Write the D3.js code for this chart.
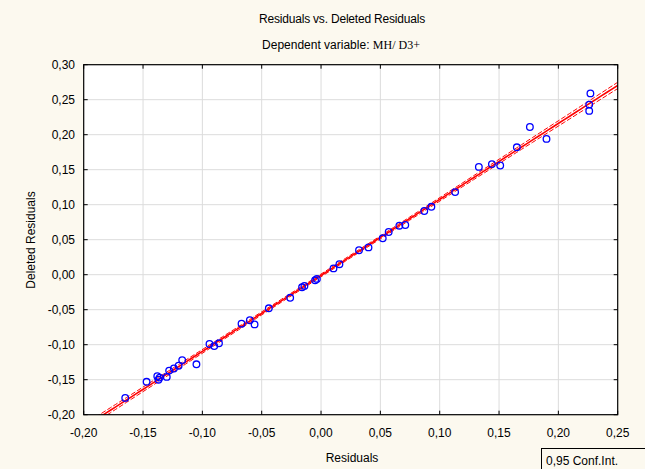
<!DOCTYPE html>
<html>
<head>
<meta charset="utf-8">
<script src="https://cdn.jsdelivr.net/npm/d3@7"></script>
<style>
  html, body { margin: 0; padding: 0; background: #fcf9ef; }
  svg { display: block; }
  text { font-family: "Liberation Sans", Arial, sans-serif; fill: #000; }
</style>
</head>
<body>
<svg id="chart" width="645" height="469"></svg>
<script>
// ---- data ----
const residuals = [
  -0.165, -0.147, -0.138, -0.136, -0.137, -0.130, -0.128, -0.124, -0.120, -0.117,
  -0.105, -0.094, -0.090, -0.086, -0.067, -0.060, -0.056, -0.044, -0.026, -0.016,
  -0.014, -0.005, -0.0035, 0.0105, 0.0155, 0.032, 0.040, 0.052, 0.057, 0.066,
  0.071, 0.087, 0.093, 0.113, 0.133, 0.144, 0.151, 0.165, 0.176, 0.190,
  0.226, 0.226, 0.227
];
const deletedResiduals = [
  -0.176, -0.153, -0.145, -0.147, -0.150, -0.146, -0.137, -0.134, -0.130, -0.122,
  -0.128, -0.099, -0.102, -0.098, -0.070, -0.065, -0.071, -0.048, -0.033, -0.018,
  -0.016, -0.008, -0.006, 0.009, 0.015, 0.035, 0.039, 0.052, 0.061, 0.070,
  0.071, 0.091, 0.097, 0.118, 0.154, 0.158, 0.156, 0.182, 0.211, 0.194,
  0.234, 0.243, 0.259
];
const xTicks = [-0.20, -0.15, -0.10, -0.05, 0.00, 0.05, 0.10, 0.15, 0.20, 0.25];
const yTicks = [-0.20, -0.15, -0.10, -0.05, 0.00, 0.05, 0.10, 0.15, 0.20, 0.25, 0.30];
const titleText = "Residuals vs. Deleted Residuals";
const subtitlePrefix = "Dependent variable: ";
const subtitleVar = "MH/ D3+";
const xLabel = "Residuals";
const yLabel = "Deleted Residuals";
const legendText = "0,95 Conf.Int.";

// ---- layout ----
const svg = d3.select("#chart");
const L = 83.7, R = 617.7, T = 64.7, B = 414.7;
const x = d3.scaleLinear().domain([-0.20, 0.25]).range([L, R]);
const y = d3.scaleLinear().domain([-0.20, 0.30]).range([B, T]);
const fmt = v => d3.format(".2f")(v).replace(".", ",").replace("−", "-");

// plot background
svg.append("rect").attr("x", L).attr("y", T).attr("width", R - L).attr("height", B - T).attr("fill", "#fff");

// grid
const grid = svg.append("g").attr("stroke", "#dcdcdc").attr("stroke-width", 1);
grid.selectAll(".gx").data(xTicks.slice(1, -1)).join("line")
  .attr("x1", d => x(d)).attr("x2", d => x(d)).attr("y1", T).attr("y2", B);
grid.selectAll(".gy").data(yTicks.slice(1, -1)).join("line")
  .attr("y1", d => y(d)).attr("y2", d => y(d)).attr("x1", L).attr("x2", R);

// regression + 95% CI
const n = residuals.length;
const mx = d3.mean(residuals), my = d3.mean(deletedResiduals);
let sxx = 0, sxy = 0;
for (let i = 0; i < n; i++) { sxx += (residuals[i] - mx) ** 2; sxy += (residuals[i] - mx) * (deletedResiduals[i] - my); }
const slope = sxy / sxx, icpt = my - slope * mx;
let sse = 0;
for (let i = 0; i < n; i++) sse += (deletedResiduals[i] - (icpt + slope * residuals[i])) ** 2;
const s = Math.sqrt(sse / (n - 2));
const tcrit = 2.0195;
const xs = d3.range(0, 101).map(i => -0.20 + i * 0.45 / 100);
const fit = xs.map(v => [v, icpt + slope * v]);
const se = v => s * Math.sqrt(1 / n + (v - mx) ** 2 / sxx);
const upper = xs.map(v => [v, icpt + slope * v + tcrit * se(v)]);
const lower = xs.map(v => [v, icpt + slope * v - tcrit * se(v)]);

svg.append("clipPath").attr("id", "clip").append("rect")
  .attr("x", L).attr("y", T).attr("width", R - L).attr("height", B - T);
const line = d3.line().x(d => x(d[0])).y(d => y(d[1]));
const lg = svg.append("g").attr("clip-path", "url(#clip)").attr("fill", "none").attr("stroke", "#ff0000");
lg.append("path").attr("d", line(upper)).attr("stroke-width", 1).attr("stroke-dasharray", "5,2");
lg.append("path").attr("d", line(lower)).attr("stroke-width", 1).attr("stroke-dasharray", "5,2");
lg.append("path").attr("d", line(fit)).attr("stroke-width", 1.6);

// points
svg.append("g").selectAll("circle").data(d3.range(n)).join("circle")
  .attr("cx", i => x(residuals[i])).attr("cy", i => y(deletedResiduals[i]))
  .attr("r", 3.3).attr("fill", "none").attr("stroke", "#0000ff").attr("stroke-width", 1.3);

// frame
svg.append("rect").attr("x", L).attr("y", T).attr("width", R - L).attr("height", B - T)
  .attr("fill", "none").attr("stroke", "#000").attr("stroke-width", 1.2);

// inner ticks
const tk = svg.append("g").attr("stroke", "#000").attr("stroke-width", 1);
tk.selectAll(".tb").data(xTicks).join("line").attr("x1", d => x(d)).attr("x2", d => x(d)).attr("y1", B).attr("y2", B - 4);
tk.selectAll(".tt").data(xTicks).join("line").attr("x1", d => x(d)).attr("x2", d => x(d)).attr("y1", T).attr("y2", T + 4);
tk.selectAll(".tl").data(yTicks).join("line").attr("y1", d => y(d)).attr("y2", d => y(d)).attr("x1", L).attr("x2", L + 4);
tk.selectAll(".tr").data(yTicks).join("line").attr("y1", d => y(d)).attr("y2", d => y(d)).attr("x1", R).attr("x2", R - 4);

// tick labels
svg.append("g").selectAll("text").data(xTicks).join("text")
  .attr("x", d => x(d)).attr("y", 437).attr("text-anchor", "middle").attr("font-size", 12).text(fmt);
svg.append("g").selectAll("text").data(yTicks).join("text")
  .attr("x", 75).attr("y", d => y(d) + 4).attr("text-anchor", "end").attr("font-size", 12).text(fmt);

// titles
svg.append("text").attr("x", 342).attr("y", 23).attr("text-anchor", "middle").attr("font-size", 12)
  .attr("letter-spacing", -0.2).text(titleText);
const st = svg.append("text").attr("x", 341).attr("y", 49).attr("text-anchor", "middle").attr("font-size", 12);
st.append("tspan").text(subtitlePrefix);
st.append("tspan").attr("font-family", "'Liberation Serif', 'Times New Roman', serif").attr("font-size", 12).text(subtitleVar);

svg.append("text").attr("x", 352).attr("y", 462).attr("text-anchor", "middle").attr("font-size", 12).text(xLabel);
svg.append("text").attr("transform", "translate(35,240) rotate(-90)").attr("text-anchor", "middle").attr("font-size", 12).text(yLabel);

// legend
svg.append("rect").attr("x", 541.5).attr("y", 448.5).attr("width", 110).attr("height", 25)
  .attr("fill", "#fcf9ef").attr("stroke", "#000").attr("stroke-width", 1);
svg.append("text").attr("x", 546).attr("y", 465).attr("font-size", 12).text(legendText);
</script>
</body>
</html>
